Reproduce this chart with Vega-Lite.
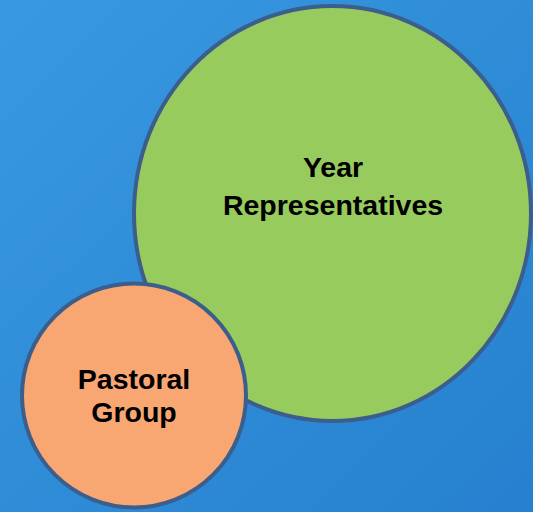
{
  "$schema": "https://vega.github.io/schema/vega-lite/v6.json",
  "width": 533,
  "height": 512,
  "padding": 0,
  "autosize": {"type": "none"},
  "background": "#2f8dd8",
  "config": {"view": {"stroke": null}},
  "datasets": {
    "bg": [{"x": 0, "x2": 533, "y": 0, "y2": 512}],
    "circles": [
      {"name": "Year Representatives", "cx": 332.5, "cy": 213.5, "value": 100, "group": "year"},
      {"name": "Pastoral Group", "cx": 134, "cy": 395.5, "value": 29.13, "group": "pastoral"}
    ],
    "labels": [
      {"text": "Year", "x": 333, "y": 168},
      {"text": "Representatives", "x": 333, "y": 206},
      {"text": "Pastoral", "x": 134, "y": 380},
      {"text": "Group", "x": 134, "y": 413}
    ]
  },
  "layer": [
    {
      "data": {"name": "bg"},
      "mark": {
        "type": "rect",
        "fill": {
          "gradient": "linear",
          "x1": 0, "y1": 0, "x2": 1, "y2": 1,
          "stops": [
            {"offset": 0, "color": "#3899e0"},
            {"offset": 1, "color": "#2680cf"}
          ]
        }
      },
      "encoding": {
        "x": {"field": "x", "type": "quantitative", "scale": {"domain": [0, 533]}, "axis": null},
        "x2": {"field": "x2"},
        "y": {"field": "y", "type": "quantitative", "scale": {"domain": [0, 512], "reverse": true}, "axis": null},
        "y2": {"field": "y2"}
      }
    },
    {
      "data": {"name": "circles"},
      "mark": {"type": "point", "filled": true, "opacity": 1, "stroke": "#3b5e8d", "strokeWidth": 4},
      "encoding": {
        "x": {"field": "cx", "type": "quantitative", "scale": {"domain": [0, 533]}, "axis": null},
        "y": {"field": "cy", "type": "quantitative", "scale": {"domain": [0, 512], "reverse": true}, "axis": null},
        "size": {"field": "value", "type": "quantitative", "scale": {"domain": [0, 100], "range": [0, 172225], "zero": true}, "legend": null},
        "shape": {"field": "group", "type": "nominal", "scale": {"domain": ["year", "pastoral"], "range": ["M-0.9566,0A0.9566,1,0,1,0,0.9566,0A0.9566,1,0,1,0,-0.9566,0Z", "circle"]}, "legend": null},
        "color": {"field": "group", "type": "nominal", "scale": {"domain": ["year", "pastoral"], "range": ["#97cb5d", "#f8a672"]}, "legend": null},
        "order": {"field": "value", "type": "quantitative", "sort": "descending"}
      }
    },
    {
      "data": {"name": "labels"},
      "mark": {"type": "text", "font": "Liberation Sans", "fontWeight": "bold", "fontSize": 28.5, "color": "black", "align": "center", "baseline": "middle"},
      "encoding": {
        "x": {"field": "x", "type": "quantitative", "scale": {"domain": [0, 533]}, "axis": null},
        "y": {"field": "y", "type": "quantitative", "scale": {"domain": [0, 512], "reverse": true}, "axis": null},
        "text": {"field": "text"}
      }
    }
  ]
}
